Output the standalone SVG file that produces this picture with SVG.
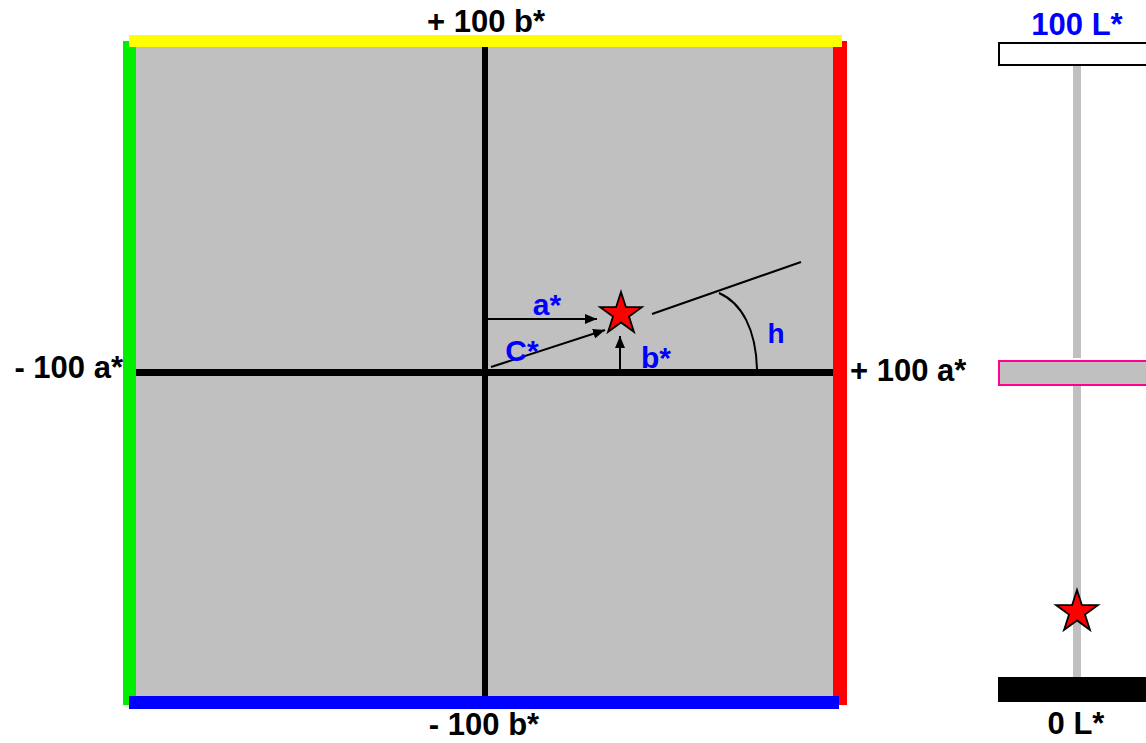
<svg xmlns="http://www.w3.org/2000/svg" width="1146" height="743" viewBox="0 0 1146 743">
<style>
.lbl{font-family:"Liberation Sans",Arial,sans-serif;font-weight:bold;font-size:31px;fill:#000}
.blue{font-family:"Liberation Sans",Arial,sans-serif;font-weight:bold;font-size:30px;fill:#0000ff}
.thin{stroke:#000;stroke-width:2;fill:none}
.star{fill:#ff0000;stroke:#000;stroke-width:1.8;stroke-linejoin:miter}
</style>
<defs>
<marker id="arr" markerUnits="userSpaceOnUse" markerWidth="12" markerHeight="10" refX="12" refY="5" orient="auto">
<path d="M0,0 L12,5 L0,10 Z" fill="#000"/>
</marker>
<path id="starShape" d="M0,-22 L4.94,-6.8 L20.92,-6.8 L7.99,2.6 L12.93,17.8 L0,8.4 L-12.93,17.8 L-7.99,2.6 L-20.92,-6.8 L-4.94,-6.8 Z"/>
</defs>
<rect width="1146" height="743" fill="#fff"/>
<g id="chart">
<rect x="136" y="47" width="697" height="649" fill="#c0c0c0"/>
<rect x="123" y="41" width="13" height="664" fill="#00ee00"/>
<rect x="833" y="41" width="14" height="664" fill="#ff0000"/>
<rect x="129" y="35" width="713" height="12" fill="#ffff00"/>
<rect x="129" y="696" width="710" height="13" fill="#0000ff"/>
<rect x="482" y="47" width="6" height="649" fill="#000"/>
<rect x="136" y="369" width="697" height="7" fill="#000"/>
</g>
<g id="connectors">
<line class="thin" x1="488" y1="319" x2="597" y2="319" marker-end="url(#arr)"/>
<line class="thin" x1="491" y1="367" x2="605" y2="330" marker-end="url(#arr)"/>
<line class="thin" x1="620" y1="369" x2="620" y2="336" marker-end="url(#arr)"/>
<line class="thin" x1="652" y1="314" x2="801" y2="262"/>
<path class="thin" d="M719,293 C742,303 756,330 757,369"/>
</g>
<g id="star-main"><use href="#starShape" class="star" transform="translate(621,314)"/></g>
<g id="labels">
<text class="lbl" x="486" y="32" text-anchor="middle">+ 100 b*</text>
<text class="lbl" x="123" y="378" text-anchor="end">- 100 a*</text>
<text class="lbl" x="850" y="381">+ 100 a*</text>
<text class="lbl" x="484" y="735" text-anchor="middle">- 100 b*</text>
<text class="blue" x="547" y="315" text-anchor="middle">a*</text>
<text class="blue" x="522" y="361" text-anchor="middle">C*</text>
<text class="blue" x="656" y="368" text-anchor="middle">b*</text>
<text class="blue" x="776" y="343" text-anchor="middle" style="font-size:28px">h</text>
</g>
<g id="lightness">
<rect x="1073" y="66" width="8" height="292" fill="#c0c0c0"/>
<rect x="1073" y="386" width="8" height="291" fill="#c0c0c0"/>
<rect x="999" y="43" width="200" height="22" fill="#fff" stroke="#000" stroke-width="2"/>
<rect x="999" y="361" width="200" height="24" fill="#c0c0c0" stroke="#ff0090" stroke-width="2"/>
<rect x="998" y="677" width="200" height="25" fill="#000"/>
<use href="#starShape" class="star" transform="translate(1077,612)"/>
<text class="blue" x="1077" y="35" text-anchor="middle" style="font-size:31px">100 L*</text>
<text class="lbl" x="1076" y="734" text-anchor="middle">0 L*</text>
</g>
</svg>
